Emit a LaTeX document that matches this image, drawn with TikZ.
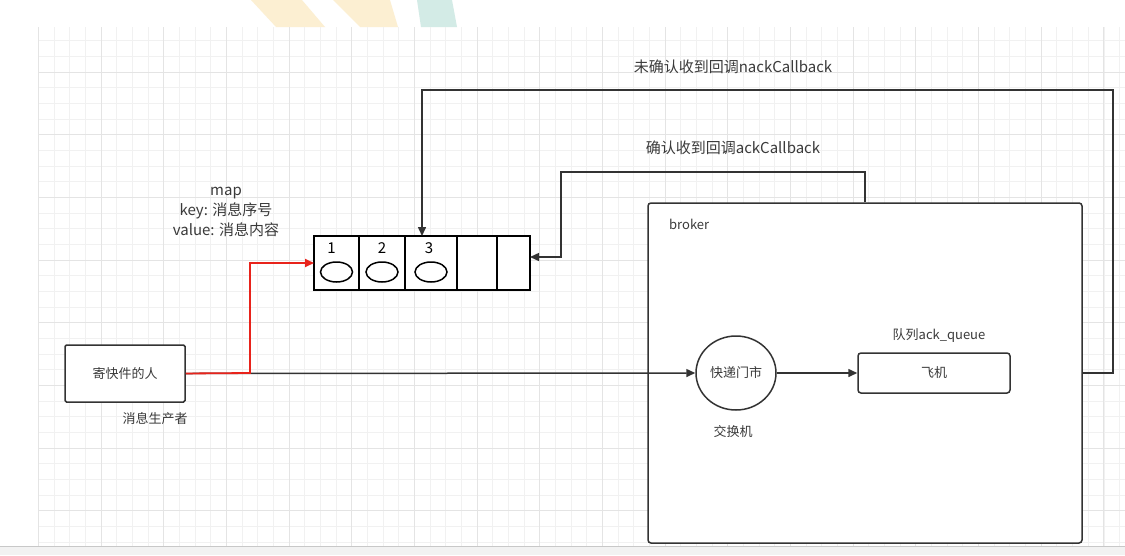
\documentclass[tikz,border=0pt]{standalone}
\usepackage{fontspec}
\setmainfont{Noto Sans CJK SC}
\usetikzlibrary{arrows.meta,positioning,shapes.geometric}
\definecolor{linegray}{HTML}{333333}
\definecolor{textgray}{HTML}{3A3A3A}
\definecolor{ackred}{HTML}{E8231B}
\definecolor{gridminor}{HTML}{F1F1F1}
\definecolor{gridmajor}{HTML}{E4E4E4}
\definecolor{barfill}{HTML}{F2F2F2}
\definecolor{barline}{HTML}{C8C8C8}
\definecolor{stripeyellow}{HTML}{FCEFD2}
\definecolor{stripeteal}{HTML}{D3EBE6}
\newcommand\lblfont{\fontsize{13}{15}\selectfont}
\newcommand\bigfont{\fontsize{15}{20}\selectfont}
\begin{document}
\begin{tikzpicture}[x=1pt,y=-1pt,
    line/.style={draw=linegray,line width=1.5pt},
    arr/.style={line,-{Triangle[length=9pt,width=8pt]}},
    redarr/.style={draw=ackred,line width=1.8pt,-{Triangle[length=9pt,width=8pt]}},
    box/.style={draw=linegray,line width=1.5pt,fill=white,rounded corners=1.5pt,inner sep=0pt,text=textgray,font=\lblfont},
    lbl/.style={text=textgray,font=\lblfont,inner sep=0pt},
    cell/.style={draw=black,line width=1.3pt,fill=white,minimum height=54pt,inner sep=0pt,outer sep=0pt},
    slot/.style={ellipse,draw=black,line width=1.5pt,minimum width=32pt,minimum height=20pt,inner sep=0pt}]
    \useasboundingbox (0,0) rectangle (1125,555);
    \fill[white] (0,0) rectangle (1125,555);
    % stripes at the top
    \fill[stripeyellow] (251,0) -- (302,0) -- (325,27) -- (276,27) -- cycle;
    \fill[stripeyellow] (333,0) -- (390,0) -- (398,27) -- (360,27) -- cycle;
    \fill[stripeteal] (417,0) -- (452,0) -- (457,27) -- (421,27) -- cycle;
    % grid
    \foreach \k in {0,...,69}
    \draw[gridminor,line width=0.8pt] ({38.33+15.67*\k},27) -- ++(0,519);
    \foreach \k in {0,...,32}
    \draw[gridminor,line width=0.8pt] (38,{40.67+15.67*\k}) -- (1125,{40.67+15.67*\k});
    \foreach \k in {0,...,17}
    \draw[gridmajor,line width=0.9pt] ({38.33+62.67*\k},27) -- ++(0,519);
    \foreach \k in {0,...,7}
    \draw[gridmajor,line width=0.9pt] (38,{72+62.67*\k}) -- (1125,{72+62.67*\k});
    \fill[barfill] (0,546) rectangle (1125,555);
    \draw[barline] (0,546) -- (1125,546);

    % producer
    \node[box,minimum width=120pt,minimum height=57pt] (sender) at (125,373.5) {寄快件的人};
    \node[lbl] (senderlbl) at (155,419) {消息生产者};

    % broker
    \node[box,rounded corners=3pt,minimum width=434pt,minimum height=340pt] (broker) at (865,373) {};
    \node[lbl,anchor=west] (brokerlbl) at (669,224) {broker};
    \node[box,ellipse,minimum width=80pt,minimum height=74pt] (exch) at (736,373) {快递门市};
    \node[lbl] (exchlbl) at (733,432) {交换机};
    \node[box,rounded corners=3pt,minimum width=152pt,minimum height=40pt] (queue) at (934,373) {飞机};
    \node[lbl] (queuelbl) at (939,336) {队列ack\_queue};

    % map of unconfirmed messages
    \node[lbl,font=\bigfont,align=center] (maplbl) at (226,212) {map\\key: 消息序号\\value: 消息内容};
    \node[cell,minimum width=45pt,anchor=west] (c1) at (314,263) {};
    \node[cell,minimum width=46pt,right=0pt of c1] (c2) {};
    \node[cell,minimum width=52pt,right=0pt of c2] (c3) {};
    \node[cell,minimum width=40pt,right=0pt of c3] (c4) {};
    \node[cell,minimum width=33pt,right=0pt of c4] (c5) {};
    \foreach \i/\dx in {1/-5,2/0,3/-2}{
      \node[slot] (e\i) at ([yshift=-9pt]c\i.center) {};
      \node[font=\bigfont,inner sep=0pt] (n\i) at ([xshift=\dx pt,yshift=15pt]c\i.center) {\i};
    }

    % callbacks
    \node[lbl,font=\bigfont] (nacklbl) at (733,67) {未确认收到回调nackCallback};
    \node[lbl,font=\bigfont] (acklbl) at (733,148) {确认收到回调ackCallback};
    \coordinate (split) at (250,373);
    \coordinate (nackturn) at (1113,90);
    \coordinate (ackturn) at (561,172);

    \draw[arr] (sender.east) -- (exch.west);
    \draw[redarr] (sender.east) -- (split) |- (c1.west);
    \draw[arr] (exch.east) -- (queue.west);
    \draw[arr] (broker.east) -| (nackturn) -| ([xshift=-9pt]c3.north);
    \draw[arr] (broker.north) |- (ackturn) |- ([yshift=6pt]c5.east);
\end{tikzpicture}
\end{document}
